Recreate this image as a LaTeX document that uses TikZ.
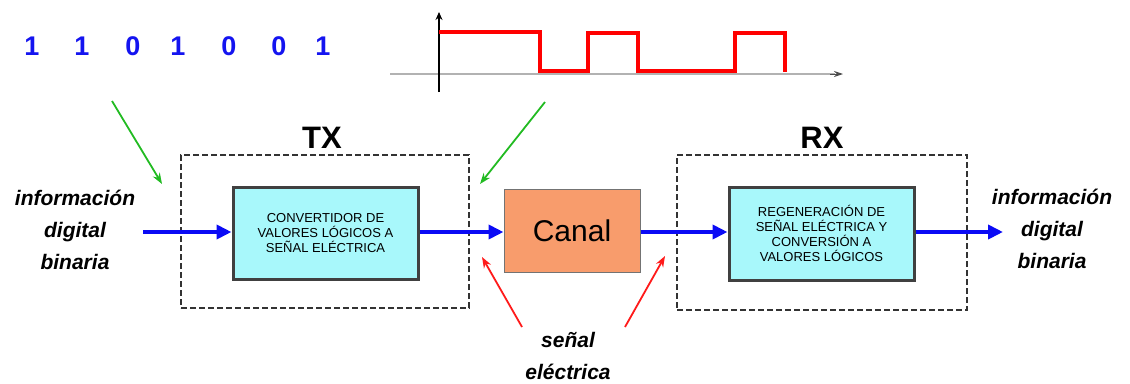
\documentclass[tikz,border=0pt]{standalone}
\usepackage{fontspec}
\setmainfont{Liberation Sans}
\usetikzlibrary{arrows.meta}
\definecolor{bitblue}{HTML}{1414F0}
\definecolor{flowblue}{HTML}{0A0AF5}
\definecolor{boxcyan}{HTML}{A8F8FB}
\definecolor{canalfill}{HTML}{F89C6C}
\definecolor{gline}{HTML}{22BB22}
\definecolor{rline}{HTML}{FF1A1A}
\begin{document}
\begin{tikzpicture}[x=1pt,y=-1pt,
  bit/.style={text=bitblue,font=\fontsize{27}{30}\selectfont\bfseries,inner sep=0pt},
  lbl/.style={font=\fontsize{31}{34}\selectfont\bfseries,inner sep=0pt},
  dbox/.style={draw=black!80,dashed,dash pattern=on 6pt off 3pt,line width=1.3pt,inner sep=0pt},
  procbox/.style={draw=black!75,line width=3pt,fill=boxcyan,inner sep=0pt,align=center,
     font=\fontsize{13}{15}\selectfont},
  canalbox/.style={draw=black!55,line width=1pt,fill=canalfill,inner sep=0pt,
     font=\fontsize{30}{32}\selectfont},
  side/.style={font=\fontsize{21}{32}\selectfont\bfseries\itshape,align=center,inner sep=0pt},
  flow/.style={flowblue,line width=4pt,-{Triangle[length=15pt,width=14pt]}},
  garrow/.style={gline,line width=1.8pt,-{Stealth[length=11pt,width=8pt]}},
  rarrow/.style={rline,line width=1.8pt,-{Stealth[length=11pt,width=8pt]}}
]
\useasboundingbox (0,0) rectangle (1130,383);

% bits
\node[bit] (b1) at (32,46) {1};
\node[bit] (b2) at (82,46) {1};
\node[bit] (b3) at (133,46) {0};
\node[bit] (b4) at (178,46) {1};
\node[bit] (b5) at (229,46) {0};
\node[bit] (b6) at (279,46) {0};
\node[bit] (b7) at (323,46) {1};

% waveform
\coordinate (hx0) at (390,74);
\coordinate (hx1) at (843,74);
\coordinate (vy0) at (439,92);
\coordinate (vy1) at (439,12);
\draw[gray!60,line width=1.6pt] (hx0) -- (835,74);
\draw[black!70,line width=1pt,-{Stealth[length=9pt,width=6pt]}] (830,74) -- (hx1);
\draw[black,line width=1.1pt,-{Stealth[length=8pt,width=7pt]}] (vy0) -- (vy1);
\draw[red,line width=3.2pt,line join=miter] (439,32) -- (540,32) -- (540,71) -- (588,71) -- (588,33)
  -- (638,33) -- (638,71) -- (735,71) -- (735,33) -- (785,33) -- (785,72);

% labels
\node[lbl] (tx) at (322,138) {TX};
\node[lbl] (rx) at (822,138) {RX};

% dashed boxes
\node[dbox,minimum width=288pt,minimum height=153pt] (txbox) at (325,231.5) {};
\node[dbox,minimum width=290pt,minimum height=155pt] (rxbox) at (822,232.5) {};

% processing boxes
\node[procbox,minimum width=185pt,minimum height=92pt] (conv) at (325.5,233)
  {CONVERTIDOR DE\\VALORES LÓGICOS A\\SEÑAL ELÉCTRICA};
\node[canalbox,minimum width=136pt,minimum height=83pt] (canal) at (572,230.5) {Canal};
\node[procbox,minimum width=185pt,minimum height=93pt] (regen) at (821.5,233.5)
  {REGENERACIÓN DE\\SEÑAL ELÉCTRICA Y\\CONVERSIÓN A\\VALORES LÓGICOS};

% side texts
\node[side] (inT) at (75,230) {información\\digital\\binaria};
\node[side] (outT) at (1052,229) {información\\digital\\binaria};
\node[side] (sig) at (568,356) {señal\\eléctrica};

% flow arrows
\coordinate (fin) at (143,232);
\coordinate (fout) at (1003,232);
\draw[flow] (fin) -- (conv.west |- fin);
\draw[flow] (conv.east |- fin) -- (canal.west |- fin);
\draw[flow] (canal.east |- fin) -- (regen.west |- fin);
\draw[flow] (regen.east |- fin) -- (fout);

% green pointers
\coordinate (g1s) at (112,101);
\coordinate (g1e) at (162,184);
\coordinate (g2s) at (545,102);
\coordinate (g2e) at (480,184);
\draw[garrow] (g1s) -- (g1e);
\draw[garrow] (g2s) -- (g2e);

% red pointers
\coordinate (r1s) at (522,327);
\coordinate (r1e) at (482,257);
\coordinate (r2s) at (625,327);
\coordinate (r2e) at (665,256);
\draw[rarrow] (r1s) -- (r1e);
\draw[rarrow] (r2s) -- (r2e);
\end{tikzpicture}
\end{document}
